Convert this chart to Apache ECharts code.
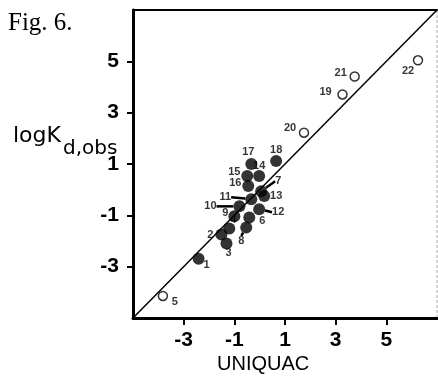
<!DOCTYPE html>
<html><head><meta charset="utf-8">
<script src="https://cdn.jsdelivr.net/npm/echarts@6/dist/echarts.min.js"></script>
<style>html,body{margin:0;padding:0;background:#fff}#c{width:438px;height:376px}</style>
</head><body><div id="c"></div>
<script>
// compound numbers
const filledIds = [1,2,3,4,6,7,8,9,10,11,12,13,14,15,16,17,18];
const filledX  = [-2.41,-1.51,-1.31,-1.2,-0.41,0.06,-0.53,-1.0,-0.8,-0.33,-0.02,0.18,-0.02,-0.49,-0.45,-0.33,0.65];
const filledY  = [-2.69,-1.75,-2.1,-1.51,-1.08,-0.06,-1.47,-1.04,-0.65,-0.37,-0.76,-0.25,0.53,0.53,0.14,1.0,1.12];
const openIds = [5,19,20,21,22];
const openX   = [-3.82,3.27,1.75,3.75,6.25];
const openY   = [-4.14,3.71,2.22,4.41,5.04];
const tickLabels = [-3,-1,1,3,5];
const diagonal = [[-5,-5],[7,7]];

// label offsets (style, px) and which labels have leader arrows
const labelOffsets = {1:[8,6],2:[-11,0],3:[2,9],4:[4,-8],5:[12,6],6:[13,4],7:[17,-10],8:[-5,14],9:[-9,-3],
  10:[-29,0],11:[-26,-2],12:[19,3],13:[12,0],14:[0,-10],15:[-13,-4],16:[-13,-3],17:[-3,-12],18:[0,-11],
  19:[-17,-2],20:[-14,-5],21:[-14,-4],22:[-10,11]};
const arrowIds = [7,8,10,11,12];

function mk(ids, xs, ys){
  return ids.map((id,i)=>({value:[xs[i],ys[i]], name:String(id),
    labelLine:{show: arrowIds.indexOf(id)>=0}}));
}
function layout(params){
  const id = +params.text;
  const o = labelOffsets[id]||[0,0];
  return {dx:o[0], dy:o[1]};
}
const lab = {show:true, position:'inside', formatter:p=>p.name, color:'#000',
  fontFamily:'Liberation Sans', fontSize:11, fontWeight:'bold'};
const axisFont = {fontFamily:'Liberation Sans', fontSize:21, color:'#000', fontWeight:'bold'};

const chart = echarts.init(document.getElementById('c'));
chart.setOption({
  animation:false,
  backgroundColor:'#fff',
  grid:{left:133, top:10, right:1, bottom:58},
  graphic:[
    {type:'text', left:8, top:11, style:{text:'Fig. 6.', fontFamily:'Liberation Serif', fontSize:25, fill:'#000'}},
    {type:'text', left:13, top:125, style:{text:'logK', fontFamily:'DejaVu Sans', fontSize:22, fill:'#000'}},
    {type:'text', left:63, top:139, style:{text:'d,obs', fontFamily:'DejaVu Sans', fontSize:20, fill:'#000'}},
    {type:'text', left:217, top:354, style:{text:'UNIQUAC', fontFamily:'Liberation Sans', fontSize:20, fill:'#000'}},
    {type:'line', shape:{x1:437,y1:10,x2:437,y2:318}, style:{stroke:'#aaa', lineWidth:1, lineDash:[3,2]}}
  ],
  xAxis:[{type:'value', min:-5, max:7, interval:2, position:'bottom',
    axisLine:{onZero:false, lineStyle:{color:'#000', width:3}},
    axisTick:{show:true, inside:false, length:7, lineStyle:{width:2,color:'#000'}, customValues:tickLabels},
    axisLabel:Object.assign({margin:12, customValues:tickLabels}, axisFont),
    splitLine:{show:false}},
   {type:'value', min:-5, max:7, position:'top', axisLine:{show:true, onZero:false, lineStyle:{color:'#000',width:2}}, axisTick:{show:false}, axisLabel:{show:false}, splitLine:{show:false}}],
  yAxis:{type:'value', min:-5, max:7, interval:2,
    axisLine:{show:true, onZero:false, lineStyle:{color:'#000', width:3}},
    axisTick:{show:true, inside:false, length:6, lineStyle:{width:2,color:'#000'}, customValues:tickLabels},
    axisLabel:Object.assign({margin:14, customValues:tickLabels}, axisFont),
    splitLine:{show:false}},
  series:[
    {type:'line', data:diagonal, symbol:'none', lineStyle:{color:'#000', width:1.5}, silent:true, z:1},
    {type:'scatter', data:mk(filledIds,filledX,filledY), symbol:'circle', symbolSize:12,
      itemStyle:{color:'#000'}, label:lab, labelLayout:layout,
      labelLine:{show:false, lineStyle:{color:'#000', width:2.5}}, z:3},
    {type:'scatter', data:mk(openIds,openX,openY), symbol:'circle', symbolSize:9,
      itemStyle:{color:'#fff', borderColor:'#000', borderWidth:1.5}, label:lab, labelLayout:layout, z:3}
  ]
});
</script></body></html>
